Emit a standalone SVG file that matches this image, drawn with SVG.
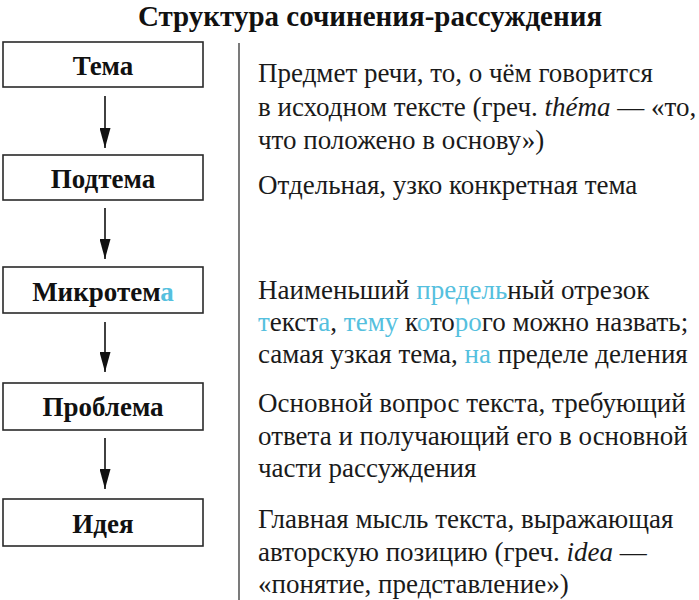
<svg xmlns="http://www.w3.org/2000/svg" width="699" height="600" viewBox="0 0 699 600">
<defs>
<style>
.box{fill:#fff;stroke:#2a2a2a;stroke-width:1.6}
.lbl{font-family:"Liberation Serif","Times New Roman",serif;font-weight:bold;font-size:27px;fill:#111;text-anchor:middle}
.txt{font-family:"Liberation Serif","Times New Roman",serif;font-size:27px;fill:#1a1a1a}
.ttl{font-family:"Liberation Serif","Times New Roman",serif;font-weight:bold;font-size:29px;fill:#111;text-anchor:middle}
.cy{fill:#55c0de}
.conn{stroke:#111;stroke-width:1.6;fill:none;marker-end:url(#ah)}
</style>
<marker id="ah" markerWidth="20" markerHeight="11" refX="20" refY="5.5" orient="auto" markerUnits="userSpaceOnUse" viewBox="0 0 20 11">
<path d="M0,0 L20,5.5 L0,11 Z" fill="#111"/>
</marker>
</defs>
<rect width="699" height="600" fill="#fff"/>
<text class="ttl" x="370" y="26">Структура сочинения-рассуждения</text>

<g id="node-tema">
<rect class="box" x="3" y="42" width="200" height="45"/>
<text class="lbl" x="103" y="75">Тема</text>
</g>
<g id="node-podtema">
<rect class="box" x="3" y="155" width="200" height="45"/>
<text class="lbl" x="103" y="188">Подтема</text>
</g>
<g id="node-mikrotema">
<rect class="box" x="3" y="267" width="200" height="46"/>
<text class="lbl" x="103" y="301">Микротем<tspan class="cy">а</tspan></text>
</g>
<g id="node-problema">
<rect class="box" x="3" y="383" width="200" height="47"/>
<text class="lbl" x="103" y="416">Проблема</text>
</g>
<g id="node-ideya">
<rect class="box" x="3" y="499" width="200" height="47"/>
<text class="lbl" x="103" y="533">Идея</text>
</g>

<g id="connectors">
<line class="conn" x1="105" y1="96" x2="105" y2="148"/>
<line class="conn" x1="105" y1="208" x2="105" y2="259"/>
<line class="conn" x1="105" y1="322" x2="105" y2="372"/>
<line class="conn" x1="105" y1="438" x2="105" y2="489"/>
</g>

<g id="divider">
<line x1="239" y1="43" x2="239" y2="600" stroke="#222" stroke-width="1.2"/>
</g>

<g id="desc-tema">
<text class="txt" x="258" y="82">Предмет речи, то, о чём говорится</text>
<text class="txt" x="258" y="116">в исходном тексте (греч. <tspan font-style="italic">théma</tspan> — «то,</text>
<text class="txt" x="258" y="149">что положено в основу»)</text>
</g>
<g id="desc-podtema">
<text class="txt" x="258" y="194">Отдельная, узко конкретная тема</text>
</g>
<g id="desc-mikrotema">
<text class="txt" x="258" y="299">Наименьший <tspan class="cy">предель</tspan>ный отрезок</text>
<text class="txt" x="258" y="331"><tspan class="cy">т</tspan>екст<tspan class="cy">а</tspan>, <tspan class="cy">тему</tspan> к<tspan class="cy">о</tspan>то<tspan class="cy">ро</tspan>го можно назвать;</text>
<text class="txt" x="258" y="363">самая узкая тема, <tspan class="cy">на</tspan> пределе деления</text>
</g>
<g id="desc-problema">
<text class="txt" x="258" y="412">Основной вопрос текста, требующий</text>
<text class="txt" x="258" y="445">ответа и получающий его в основной</text>
<text class="txt" x="258" y="477">части рассуждения</text>
</g>
<g id="desc-ideya">
<text class="txt" x="258" y="528">Главная мысль текста, выражающая</text>
<text class="txt" x="258" y="561">авторскую позицию (греч. <tspan font-style="italic">idea</tspan> —</text>
<text class="txt" x="258" y="593">«понятие, представление»)</text>
</g>
</svg>
